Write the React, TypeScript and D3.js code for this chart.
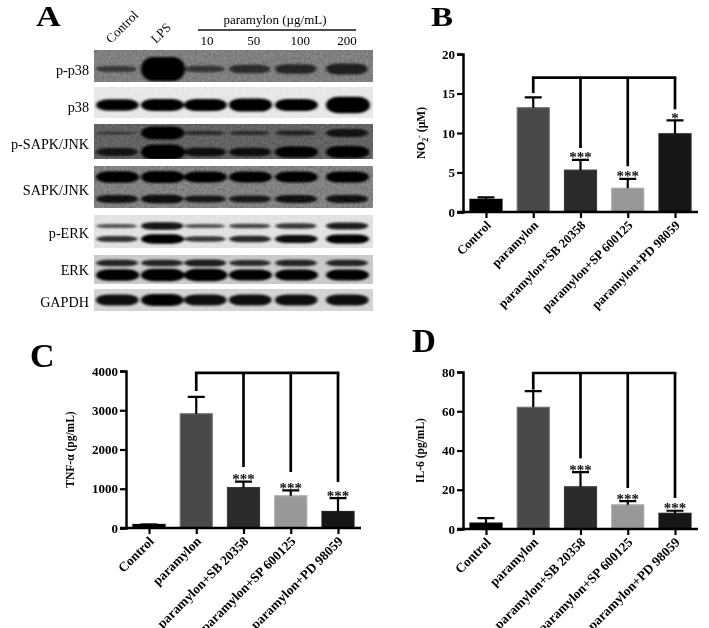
import { useEffect, useRef } from "react"
import * as d3 from "d3"

// Western blot densities, one number per lane (0 = no band, 1 = saturated)
const lanes = ["Control", "LPS", "10", "50", "100", "200"]
const pP38 = [0.2, 1, 0.22, 0.3, 0.36, 0.42]
const p38 = [0.68, 0.7, 0.72, 0.78, 0.72, 1]
const pJnkUpper = [0.12, 0.85, 0.22, 0.22, 0.3, 0.5]
const pJnkLower = [0.5, 1, 0.55, 0.55, 0.72, 0.8]
const jnkUpper = [0.75, 0.8, 0.7, 0.7, 0.7, 0.72]
const jnkLower = [0.55, 0.6, 0.5, 0.5, 0.55, 0.55]
const pErkUpper = [0.28, 0.6, 0.28, 0.35, 0.42, 0.55]
const pErkLower = [0.45, 0.78, 0.42, 0.5, 0.65, 0.75]
const erkUpper = [0.5, 0.5, 0.55, 0.45, 0.5, 0.5]
const erkLower = [0.8, 0.85, 0.85, 0.75, 0.75, 0.75]
const gapdh = [0.62, 0.68, 0.62, 0.62, 0.62, 0.62]

const doses = ["10", "50", "100", "200"]

// Bar panels
const groups = ["Control", "paramylon", "paramylon+SB 20358", "paramylon+SP 600125", "paramylon+PD 98059"]
const barColors = ["#000000", "#484848", "#2a2a2a", "#989898", "#161616"]
const barEdges = ["#000000", "#707070", "#3a3a3a", "#aaaaaa", "#222222"]

const no2Values = [1.6, 13.2, 5.3, 3.0, 9.9]
const no2Tops = [1.85, 14.5, 6.6, 4.2, 11.6]
const no2Drops = [15.05, 8.1, 5.8, 13.0]
const no2Stars = ["", "", "***", "***", "*"]
const no2Ticks = [0, 5, 10, 15, 20]

const tnfValues = [90, 2910, 1030, 820, 420]
const tnfTops = [90, 3340, 1180, 960, 760]
const tnfDrops = [3490, 1554, 1427, 1172]
const tnfStars = ["", "", "***", "***", "***"]
const tnfTicks = [0, 1000, 2000, 3000, 4000]

const il6Values = [3, 62, 21.5, 12.3, 8]
const il6Tops = [5.5, 70.3, 29, 14.2, 9.3]
const il6Drops = [71, 36, 20.9, 15.8]
const il6Stars = ["", "", "***", "***", "***"]
const il6Ticks = [0, 20, 40, 60, 80]

const SERIF = "'Liberation Serif', serif"

interface PanelOpts {
  left: number
  top: number
  bottom: number
  max: number
  bracket: number
  ticks: number[]
  values: number[]
  tops: number[]
  drops: number[]
  stars: string[]
  labelSize: number
  title: (t: d3.Selection<SVGTextElement, unknown, null, undefined>) => void
  titleX: number
}

function drawPanel(root: d3.Selection<SVGGElement, unknown, null, undefined>, o: PanelOpts) {
  const x = d3.scalePoint<string>().domain(groups).range([o.left + 23, o.left + 212])
  const y = d3.scaleLinear().domain([0, o.max]).range([o.bottom, o.top])
  const g = root.append("g")

  // bars
  groups.forEach((name, i) => {
    const cx = x(name)!
    g.append("rect")
      .attr("x", cx - 16)
      .attr("y", y(o.values[i]))
      .attr("width", 32)
      .attr("height", o.bottom - y(o.values[i]))
      .attr("fill", barColors[i])
      .attr("stroke", barEdges[i])
      .attr("stroke-width", 1.2)
    // error bar
    g.append("path")
      .attr("d", `M${cx},${y(o.values[i])}V${y(o.tops[i])}M${cx - 8.5},${y(o.tops[i])}H${cx + 8.5}`)
      .attr("stroke", "#000")
      .attr("stroke-width", 2.2)
      .attr("fill", "none")
    if (o.stars[i]) {
      g.append("text")
        .attr("x", cx)
        .attr("y", y(o.tops[i]) + 2.5)
        .attr("text-anchor", "middle")
        .attr("font-family", SERIF)
        .attr("font-weight", "bold")
        .attr("font-size", 15)
        .attr("fill", "#111")
        .text(o.stars[i])
    }
  })

  // bracket over the treated groups
  const xs = groups.slice(1).map(d => x(d)!)
  const bracketY = y(o.bracket)
  g.append("path")
    .attr("d", `M${xs[0]},${bracketY}H${xs[3]}`)
    .attr("stroke", "#000").attr("stroke-width", 2.7).attr("fill", "none").attr("stroke-linecap", "square")
  xs.forEach((cx, i) => {
    g.append("line")
      .attr("x1", cx).attr("x2", cx)
      .attr("y1", bracketY).attr("y2", y(o.drops[i]))
      .attr("stroke", "#000").attr("stroke-width", 2.7)
  })

  // axes
  const yAxis = g.append("g")
    .attr("transform", `translate(${o.left},0)`)
    .call(d3.axisLeft(y).tickValues(o.ticks).tickSize(6).tickPadding(2).tickFormat(d3.format("d")))
  const xAxis = g.append("g")
    .attr("transform", `translate(0,${o.bottom})`)
    .call(d3.axisBottom(x).tickSize(6))
  yAxis.select(".domain").attr("stroke-width", 2.5).attr("stroke", "#000")
  xAxis.select(".domain").remove()
  g.append("line")
    .attr("x1", o.left - 6).attr("x2", o.left + 235)
    .attr("y1", o.bottom).attr("y2", o.bottom)
    .attr("stroke", "#000").attr("stroke-width", 2.5)
  g.selectAll(".tick line").attr("stroke", "#000").attr("stroke-width", 2.2)
  yAxis.selectAll("text")
    .attr("font-family", SERIF).attr("font-weight", "bold").attr("font-size", 13).attr("fill", "#000")
  xAxis.selectAll("text")
    .attr("font-family", SERIF).attr("font-weight", "bold").attr("font-size", o.labelSize).attr("fill", "#000")
    .attr("text-anchor", "end")
    .attr("dy", 0)
    .attr("transform", "translate(3,12) rotate(-45)")
    .attr("y", 3)
    .attr("x", 0)

  // y title
  const title = g.append("text")
    .attr("transform", `translate(${o.titleX},${(o.top + o.bottom) / 2 + 0}) rotate(-90)`)
    .attr("text-anchor", "middle")
    .attr("font-family", SERIF)
    .attr("font-weight", "bold")
    .attr("font-size", 11.5)
    .attr("fill", "#000")
  o.title(title)
}

export default function App() {
  const ref = useRef<SVGSVGElement | null>(null)

  useEffect(() => {
    const svg = d3.select(ref.current)
    svg.selectAll("*").remove()

    const defs = svg.append("defs")
    defs.append("filter").attr("id", "soft").append("feGaussianBlur").attr("stdDeviation", 0.35)
    defs.append("filter").attr("id", "band")
      .attr("x", "-20%").attr("y", "-60%").attr("width", "140%").attr("height", "220%")
      .append("feGaussianBlur").attr("stdDeviation", "1.8 1.3")
    const grain = defs.append("filter").attr("id", "grain")
    grain.append("feTurbulence").attr("type", "fractalNoise").attr("baseFrequency", 0.45).attr("numOctaves", 2).attr("seed", 4)
    grain.append("feColorMatrix").attr("type", "matrix")
      .attr("values", "0 0 0 0 0  0 0 0 0 0  0 0 0 0 0  0.9 0 0 0 -0.25")
    grain.append("feComposite").attr("in2", "SourceGraphic").attr("operator", "in")

    const root = svg.append("g").attr("filter", "url(#soft)") as unknown as d3.Selection<SVGGElement, unknown, null, undefined>

    // Panel A: blots
    const laneX = d3.scaleOrdinal<string, number>().domain(lanes).range([117, 162, 205, 250, 296, 347])
    const bandH = d3.scaleLinear().domain([0, 1]).range([1, 15])

    const blots: { label: string; y0: number; y1: number; bg: string; grainy: number; labelY: number; rows: { y: number; d: number[]; k: number }[] }[] = [
      { label: "p-p38", y0: 50, y1: 82, bg: "#8c8c8c", grainy: 0.45, labelY: 75, rows: [{ y: 69, d: pP38, k: 1.6 }] },
      { label: "p38", y0: 87, y1: 118, bg: "#ebebeb", grainy: 0.08, labelY: 112, rows: [{ y: 105, d: p38, k: 1.1 }] },
      { label: "p-SAPK/JNK", y0: 124, y1: 159, bg: "#6e6e6e", grainy: 0.5, labelY: 149, rows: [{ y: 133, d: pJnkUpper, k: 1 }, { y: 152, d: pJnkLower, k: 1 }] },
      { label: "SAPK/JNK", y0: 166, y1: 208, bg: "#8f8f8f", grainy: 0.45, labelY: 195, rows: [{ y: 177, d: jnkUpper, k: 1 }, { y: 199, d: jnkLower, k: 0.9 }] },
      { label: "p-ERK", y0: 215, y1: 248, bg: "#e6e6e6", grainy: 0.08, labelY: 238, rows: [{ y: 226, d: pErkUpper, k: 0.8 }, { y: 239, d: pErkLower, k: 0.8 }] },
      { label: "ERK", y0: 255, y1: 284, bg: "#cfcfcf", grainy: 0.12, labelY: 275, rows: [{ y: 263, d: erkUpper, k: 0.8 }, { y: 275, d: erkLower, k: 0.95 }] },
      { label: "GAPDH", y0: 289, y1: 311, bg: "#d8d8d8", grainy: 0.1, labelY: 307, rows: [{ y: 300, d: gapdh, k: 1.15 }] },
    ]

    blots.forEach(b => {
      root.append("rect").attr("x", 94).attr("y", b.y0).attr("width", 279).attr("height", b.y1 - b.y0).attr("fill", b.bg)
      root.append("rect").attr("x", 94).attr("y", b.y0).attr("width", 279).attr("height", b.y1 - b.y0)
        .attr("fill", "#000").attr("opacity", b.grainy).attr("filter", "url(#grain)")
      const clipId = "clip" + b.y0
      defs.append("clipPath").attr("id", clipId).append("rect").attr("x", 94).attr("y", b.y0).attr("width", 279).attr("height", b.y1 - b.y0)
      const bands = root.append("g").attr("clip-path", `url(#${clipId})`).append("g").attr("filter", "url(#band)")
      b.rows.forEach(r => {
        lanes.forEach((lane, i) => {
          bands.append("rect")
            .attr("x", laneX(lane) - 21)
            .attr("width", 40 + r.d[i] * 4)
            .attr("y", r.y - (bandH(r.d[i]) * r.k) / 2)
            .attr("height", bandH(r.d[i]) * r.k)
            .attr("rx", 12)
            .attr("fill", "#000")
            .attr("opacity", Math.min(1, 0.4 + r.d[i] * 0.85))
        })
      })
      root.append("text")
        .attr("x", 89).attr("y", b.labelY)
        .attr("text-anchor", "end")
        .attr("font-family", SERIF).attr("font-size", 14.2).attr("fill", "#000")
        .text(b.label)
    })

    // lane headers
    const header = (t: string, px: number, py: number, rot = 0) =>
      root.append("text")
        .attr("transform", `translate(${px},${py}) rotate(${rot})`)
        .attr("font-family", SERIF).attr("font-size", 13).attr("fill", "#000")
        .text(t)
    header("Control", 111, 44, -45)
    header("LPS", 156, 44, -45)
    root.append("text").attr("x", 275).attr("y", 24)
      .attr("text-anchor", "middle").attr("font-family", SERIF).attr("font-size", 13).attr("fill", "#000")
      .text("paramylon (µg/mL)")
    root.append("line").attr("x1", 198).attr("x2", 356).attr("y1", 30).attr("y2", 30).attr("stroke", "#111").attr("stroke-width", 1.3)
    const doseX = d3.scalePoint<string>().domain(doses).range([207, 347])
    doses.forEach(d => {
      root.append("text").attr("x", doseX(d)!).attr("y", 45)
        .attr("text-anchor", "middle").attr("font-family", SERIF).attr("font-size", 13).attr("fill", "#000")
        .text(d)
    })

    // Panel letters
    const letter = (t: string, px: number, py: number, size: number, sx: number) =>
      root.append("text").attr("transform", `translate(${px},${py}) scale(${sx},1)`)
        .attr("font-family", SERIF).attr("font-weight", "bold").attr("font-size", size).attr("fill", "#000")
        .text(t)
    letter("A", 36, 26, 29, 1.18)
    letter("B", 431, 26, 28, 1.18)
    letter("C", 30, 367, 34, 1)
    letter("D", 412, 352, 33, 1)

    drawPanel(root, {
      left: 463, top: 54, bottom: 212, max: 20, bracket: 17,
      ticks: no2Ticks, values: no2Values, tops: no2Tops, drops: no2Drops, stars: no2Stars,
      labelSize: 12.7,
      titleX: 425,
      title: t => {
        t.append("tspan").text("NO")
        t.append("tspan").attr("dy", 3).attr("font-size", 8).text("2")
        t.append("tspan").attr("dy", -6).attr("font-size", 8).text("-")
        t.append("tspan").attr("dy", 3).text(" (µM)")
      },
    })
    drawPanel(root, {
      left: 126, top: 371, bottom: 528, max: 4000, bracket: 3950,
      ticks: tnfTicks, values: tnfValues, tops: tnfTops, drops: tnfDrops, stars: tnfStars,
      labelSize: 13.3,
      titleX: 74,
      title: t => { t.text("TNF-α (pg/mL)") },
    })
    drawPanel(root, {
      left: 463, top: 372, bottom: 529, max: 80, bracket: 79.5,
      ticks: il6Ticks, values: il6Values, tops: il6Tops, drops: il6Drops, stars: il6Stars,
      labelSize: 13.3,
      titleX: 424,
      title: t => { t.text("IL-6 (pg/mL)") },
    })
  }, [])

  return <svg ref={ref} width={709} height={628} style={{ position: "absolute", left: 0, top: 0, background: "#fff" }} />
}
